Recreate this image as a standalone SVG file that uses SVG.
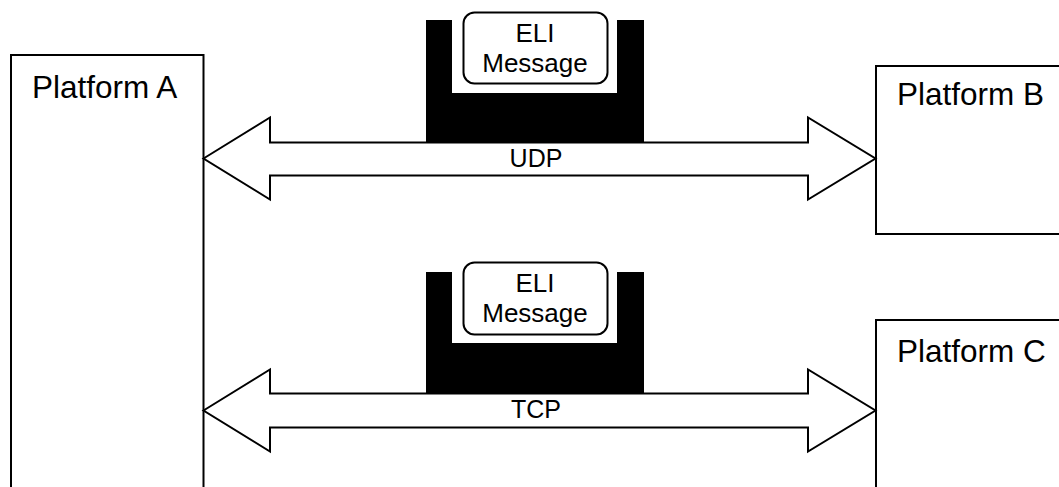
<svg xmlns="http://www.w3.org/2000/svg" width="1059" height="487" viewBox="0 0 1059 487">
<style>
.box{fill:#fff;stroke:#000;stroke-width:2}
.arrow{fill:#fff;stroke:#000;stroke-width:2;stroke-linejoin:miter}
.holder{fill:#000}
.msg{fill:#fff;stroke:#000;stroke-width:2}
.lbl{font-family:"Liberation Sans",Arial,sans-serif;font-size:31.5px;fill:#000}
.t{font-family:"Liberation Sans",Arial,sans-serif;font-size:25px;fill:#000;text-anchor:middle}
.m{font-size:26px}
</style>
<rect width="1059" height="487" fill="#fff"/>
<g id="platformA">
<rect class="box" x="11" y="55" width="192.5" height="460"/>
<text class="lbl" x="32" y="98">Platform A</text>
</g>
<g id="platformB">
<rect class="box" x="876" y="66" width="200" height="168"/>
<text class="lbl" x="897" y="105">Platform B</text>
</g>
<g id="platformC">
<rect class="box" x="876" y="320" width="200" height="200"/>
<text class="lbl" x="897" y="362">Platform C</text>
</g>
<g id="connectors">
<g id="udp">
<polygon class="arrow" points="203.5,158.5 270,117.5 270,142.5 808,142.5 808,117.5 875.5,158.5 808,199.5 808,175.5 270,175.5 270,199.5"/>
<text class="t" x="536" y="167">UDP</text>
</g>
<g id="tcp">
<polygon class="arrow" points="203.5,410.5 270,369.5 270,393.5 808,393.5 808,369.5 875.5,410.5 808,451.5 808,427.5 270,427.5 270,451.5"/>
<text class="t" x="536" y="418">TCP</text>
</g>
</g>
<g id="holder1">
<polygon class="holder" points="426,20 452,20 452,93 617,93 617,20 644,20 644,142 426,142"/>
</g>
<g id="msg1">
<rect class="msg" x="463.5" y="12.5" width="144" height="71" rx="11"/>
<text class="t m" x="535" y="42">ELI</text>
<text class="t m" x="535" y="72">Message</text>
</g>
<g id="holder2">
<polygon class="holder" points="426,272 452,272 452,343 617,343 617,272 644,272 644,393 426,393"/>
</g>
<g id="msg2">
<rect class="msg" x="463.5" y="262.5" width="144" height="72" rx="11"/>
<text class="t m" x="535" y="292">ELI</text>
<text class="t m" x="535" y="322">Message</text>
</g>
</svg>
